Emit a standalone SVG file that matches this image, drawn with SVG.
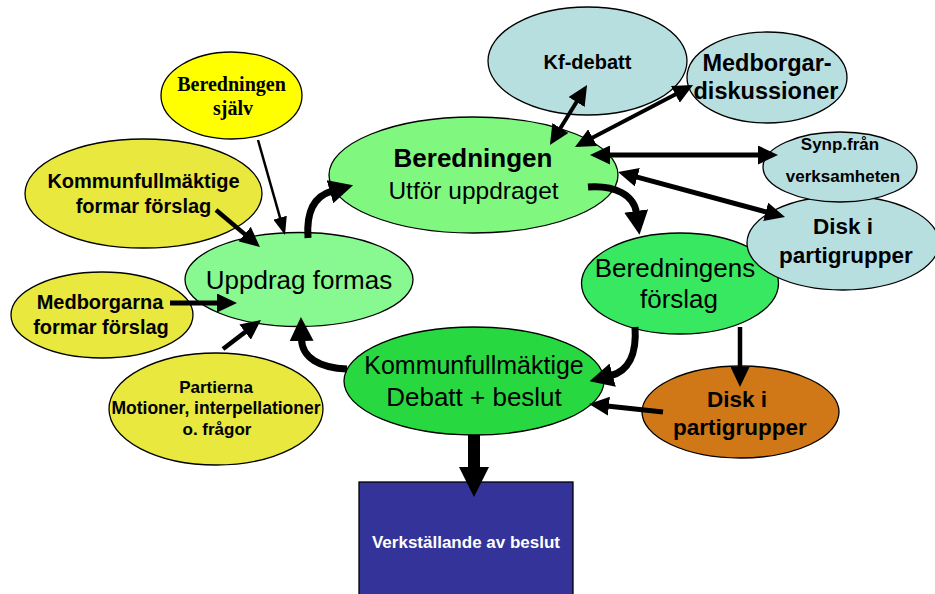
<svg xmlns="http://www.w3.org/2000/svg" width="935" height="594" viewBox="0 0 935 594">
<style>
.n{stroke:#000;stroke-width:1.3}
.t{font-family:"Liberation Sans",Arial,sans-serif;fill:#000;text-anchor:middle}
.b{font-weight:bold}
.s{font-family:"Liberation Serif","Times New Roman",serif;font-weight:bold;fill:#000;text-anchor:middle}
.c{fill:none;stroke:#000;stroke-linecap:butt}
</style>
<defs>
<marker id="as" markerUnits="userSpaceOnUse" markerWidth="18" markerHeight="14" refX="2" refY="7" orient="auto-start-reverse"><path d="M0,0 L18,7 L0,14 z" fill="#000"/></marker>
<marker id="am" markerUnits="userSpaceOnUse" markerWidth="20" markerHeight="19" refX="2" refY="9.5" orient="auto-start-reverse"><path d="M0,0 L20,9.5 L0,19 z" fill="#000"/></marker>
<marker id="al" markerUnits="userSpaceOnUse" markerWidth="24" markerHeight="24" refX="2" refY="12" orient="auto-start-reverse"><path d="M0,0 L24,12 L0,24 z" fill="#000"/></marker>
<marker id="ax" markerUnits="userSpaceOnUse" markerWidth="30" markerHeight="30" refX="2" refY="15" orient="auto"><path d="M0,0 L30,15 L0,30 z" fill="#000"/></marker>
</defs>
<rect width="935" height="594" fill="#fff"/>

<g id="kf-formar"><ellipse class="n" cx="143.5" cy="193.5" rx="118.5" ry="54.5" fill="#E8E83E"/>
<text class="t b" x="143.5" y="188" font-size="20">Kommunfullmäktige</text>
<text class="t b" x="143.5" y="213" font-size="20">formar förslag</text></g>

<g id="medborgarna"><ellipse class="n" cx="102" cy="315" rx="91" ry="43" fill="#E8E83E"/>
<text class="t b" x="100" y="309" font-size="20">Medborgarna</text>
<text class="t b" x="101" y="334" font-size="20">formar förslag</text></g>

<g id="partierna"><ellipse class="n" cx="216" cy="409" rx="107" ry="56" fill="#E8E83E"/>
<text class="t b" x="216" y="393" font-size="17">Partierna</text>
<text class="t b" x="216" y="414" font-size="17.5">Motioner, interpellationer</text>
<text class="t b" x="217" y="435" font-size="17">o. frågor</text></g>

<g id="ber-sjalv"><ellipse class="n" cx="231.5" cy="95.5" rx="70.5" ry="43.5" fill="#FFFF00"/>
<text class="s" x="231.5" y="91" font-size="20">Beredningen</text>
<text class="s" x="233" y="115" font-size="20">själv</text></g>

<g id="uppdrag"><ellipse class="n" cx="299" cy="279.5" rx="114" ry="47" fill="#88F890"/>
<text class="t" x="299" y="289" font-size="26">Uppdrag formas</text></g>

<g id="beredningen"><ellipse class="n" cx="473.5" cy="175" rx="144.5" ry="58" fill="#80F880"/>
<text class="t b" x="473" y="167" font-size="26">Beredningen</text>
<text class="t" x="473.5" y="199" font-size="24.5">Utför uppdraget</text></g>

<g id="kf-debatt"><ellipse class="n" cx="587.5" cy="61" rx="99.5" ry="54" fill="#B8DFE0"/>
<text class="t b" x="587.5" y="69" font-size="20">Kf-debatt</text></g>

<g id="medborgar-disk"><ellipse class="n" cx="767" cy="77.5" rx="80" ry="45.5" fill="#B8DFE0"/>
<text class="t b" x="767" y="71" font-size="23.5">Medborgar-</text>
<text class="t b" x="766" y="99" font-size="23.5">diskussioner</text></g>

<g id="ber-forslag"><ellipse class="n" cx="680" cy="283.5" rx="98.5" ry="50.5" fill="#38E860"/>
<text class="t" x="675" y="277" font-size="26">Beredningens</text>
<text class="t" x="679" y="308" font-size="26">förslag</text></g>

<g id="disk-blue"><ellipse class="n" cx="843" cy="243" rx="96" ry="47" fill="#B8DFE0"/>
<text class="t b" x="843" y="234" font-size="22.5">Disk i</text>
<text class="t b" x="846" y="263" font-size="22.5">partigrupper</text></g>

<g id="synp"><ellipse class="n" cx="840" cy="167" rx="77" ry="35" fill="#B8DFE0"/>
<text class="t b" x="840" y="150" font-size="17">Synp.från</text>
<text class="t b" x="843" y="182" font-size="17">verksamheten</text></g>

<g id="kf-debatt-beslut"><ellipse class="n" cx="474" cy="381" rx="130" ry="54" fill="#28D840"/>
<text class="t" x="474" y="374" font-size="25">Kommunfullmäktige</text>
<text class="t" x="474" y="406" font-size="26">Debatt + beslut</text></g>

<g id="disk-orange"><ellipse class="n" cx="740.5" cy="412" rx="98.5" ry="46" fill="#D07818"/>
<text class="t b" x="737" y="407" font-size="22.5">Disk i</text>
<text class="t b" x="740" y="435" font-size="22.5">partigrupper</text></g>

<g id="verkstallande"><rect x="359" y="482" width="214" height="120" fill="#333399" stroke="#000" stroke-width="1.3"/>
<text class="t b" x="466" y="548" font-size="17" style="fill:#fff">Verkställande av beslut</text></g>

<g id="connectors">
<path class="c" d="M258,140 L280.6,219.6" stroke-width="2.5" marker-end="url(#as)"/>
<path class="c" d="M216,210 L246.2,235.4" stroke-width="4.5" marker-end="url(#am)"/>
<path class="c" d="M170,303 L219,303" stroke-width="5" marker-end="url(#am)"/>
<path class="c" d="M223,349 L246.7,330.9" stroke-width="4.5" marker-end="url(#am)"/>
<path class="c" d="M559.4,129.7 L577.6,100.3" stroke-width="4" marker-start="url(#am)" marker-end="url(#am)"/>
<path class="c" d="M590.9,138.6 L677.1,93.4" stroke-width="4" marker-start="url(#am)" marker-end="url(#am)"/>
<path class="c" d="M608,155 L760,155" stroke-width="5" marker-start="url(#am)" marker-end="url(#am)"/>
<path class="c" d="M635.4,176.7 L767.6,212.3" stroke-width="5" marker-start="url(#am)" marker-end="url(#am)"/>
<path class="c" d="M740,327 L740,369" stroke-width="4.5" marker-end="url(#am)"/>
<path class="c" d="M663,412 L606.9,405.9" stroke-width="5" marker-end="url(#am)"/>
<path class="c" d="M308,238 C306,210 315,196 331.9,191.2" stroke-width="7" marker-end="url(#al)"/>
<path class="c" d="M588,187 C615,185 634,195 636.5,213" stroke-width="7" marker-end="url(#al)"/>
<path class="c" d="M635,327 C637,355 628,371 610.8,375.6" stroke-width="7" marker-end="url(#al)"/>
<path class="c" d="M347,369 C320,368 302,358 301.5,339" stroke-width="7" marker-end="url(#al)"/>
<path class="c" d="M474,435 L474,469" stroke-width="12" marker-end="url(#ax)"/>
</g>
</svg>
